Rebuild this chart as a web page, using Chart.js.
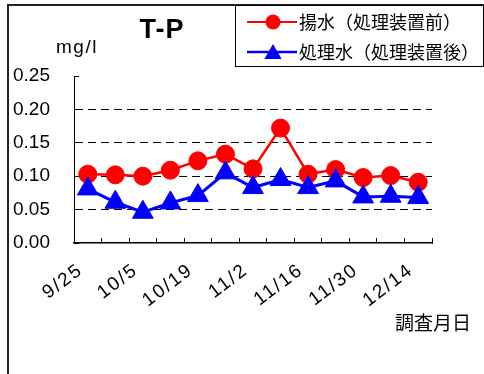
<!DOCTYPE html>
<html><head><meta charset="utf-8">
<script src="https://cdn.jsdelivr.net/npm/chart.js@4"></script>
<style>html,body{margin:0;padding:0;background:#fff;overflow:hidden}#wrap{position:relative;width:484px;height:374px}</style>
</head><body><div id="wrap"><canvas id="c" width="484" height="374"></canvas></div>
<script>
// ---- data ----
const categories = ['9/25','9/28','10/5','10/12','10/19','10/26','11/2','11/9','11/16','11/24','11/30','12/7','12/14'];
const shownLabelEvery = 2;
const seriesNames = ['揚水（処理装置前）', '処理水（処理装置後）'];
const rawWater     = [0.103, 0.102, 0.100, 0.109, 0.123, 0.133, 0.111, 0.172, 0.103, 0.110, 0.098, 0.101, 0.091];
const treatedWater = [0.081, 0.061, 0.046, 0.060, 0.071, 0.105, 0.083, 0.095, 0.083, 0.093, 0.069, 0.070, 0.068];
const yMin = 0, yMax = 0.25, yStep = 0.05;
const chartTitle = 'T-P';
const unitLabel = 'mg/l';
const xAxisTitle = '調査月日';

const LATIN = '"Liberation Sans", Arial, sans-serif';
const CJK = '"Noto Sans CJK JP", "Liberation Sans", sans-serif';
const RED = '#ff0000', BLUE = '#0000ff';

const decor = {
  id: 'decor',
  beforeDraw(chart) {
    const ctx = chart.ctx;
    ctx.save(); ctx.fillStyle = '#fff'; ctx.fillRect(0, 0, chart.width, chart.height); ctx.restore();
    const s = chart.scales.x;
    if (s && !s._spaced) {
      const orig = s.drawLabels.bind(s);
      s.drawLabels = function (ca) {
        const c = this.ctx; const prev = c.letterSpacing;
        c.letterSpacing = '2px'; orig(ca); c.letterSpacing = prev || '0px';
      };
      s._spaced = true;
    }
  },
  afterDraw(chart) {
    const ctx = chart.ctx;
    ctx.save();
    // outer frame
    ctx.strokeStyle = '#222'; ctx.lineWidth = 2;
    ctx.beginPath(); ctx.moveTo(8, 380); ctx.lineTo(8, 5); ctx.lineTo(490, 5); ctx.stroke();
    // title
    ctx.fillStyle = '#000';
    ctx.font = 'bold 27px ' + LATIN;
    ctx.textAlign = 'center'; ctx.textBaseline = 'middle';
    ctx.letterSpacing = '1px';
    ctx.fillText(chartTitle, 162, 31);
    // unit
    ctx.font = '19px ' + LATIN;
    ctx.textAlign = 'left';
    ctx.letterSpacing = '1.5px';
    ctx.fillText(unitLabel, 56, 48);
    ctx.letterSpacing = '0px';
    // x axis title
    ctx.font = '19px ' + CJK;
    ctx.fillText(xAxisTitle, 395, 323);
    // legend box
    ctx.strokeStyle = '#000'; ctx.lineWidth = 1;
    ctx.strokeRect(235.5, 5.5, 248, 61);
    // legend items
    const items = [
      {name: seriesNames[0], color: RED, style: 'circle', r: 7.5, y: 22, lw: 2},
      {name: seriesNames[1], color: BLUE, style: 'triangle', r: 10, y: 52, lw: 2.5}
    ];
    items.forEach(it => {
      ctx.strokeStyle = it.color; ctx.lineWidth = it.lw;
      ctx.beginPath(); ctx.moveTo(247, it.y); ctx.lineTo(297, it.y); ctx.stroke();
      ctx.fillStyle = it.color;
      ctx.beginPath();
      if (it.style === 'circle') { ctx.arc(273, it.y, it.r, 0, Math.PI*2); }
      else {
        const cy = it.y + 2;
        for (let k = 0; k < 3; k++) {
          const a = k * 2 * Math.PI / 3;
          const px = 273 + Math.sin(a) * it.r, py = cy - Math.cos(a) * it.r;
          k ? ctx.lineTo(px, py) : ctx.moveTo(px, py);
        }
        ctx.closePath();
      }
      ctx.fill();
      ctx.fillStyle = '#000';
      ctx.font = '18px ' + CJK;
      ctx.textAlign = 'left'; ctx.textBaseline = 'middle';
      ctx.fillText(it.name, 299, it.y);
    });
    ctx.restore();
  }
};

new Chart(document.getElementById('c'), {
  type: 'line',
  data: {
    labels: categories,
    datasets: [
      {label: seriesNames[0], data: rawWater, borderColor: RED, backgroundColor: RED,
       borderWidth: 2.5, pointStyle: 'circle', pointRadius: 9, pointBorderWidth: 1,
       pointBackgroundColor: RED, pointBorderColor: RED, tension: 0, order: 1},
      {label: seriesNames[1], data: treatedWater, borderColor: BLUE, backgroundColor: BLUE,
       borderWidth: 3, pointStyle: 'triangle', pointRadius: 12, pointBorderWidth: 1,
       pointBackgroundColor: BLUE, pointBorderColor: BLUE, tension: 0, order: 0}
    ]
  },
  options: {
    responsive: false, devicePixelRatio: 1, animation: false,
    layout: {padding: {left: 0, top: 76, right: 52, bottom: 0}},
    plugins: {legend: {display: false}, title: {display: false}, tooltip: {enabled: false}},
    scales: {
      x: {
        offset: true,
        grid: {offset: true, drawOnChartArea: false, tickLength: -5, tickColor: '#000', tickWidth: 1},
        border: {color: '#000', width: 1.5},
        ticks: {
          autoSkip: false, maxRotation: 37, minRotation: 37, padding: 21, labelOffset: -7,
          color: '#000', font: {family: LATIN, size: 19},
          callback: (v, i) => (i % shownLabelEvery === 0 ? categories[i] : '')
        },
        afterFit: s => { s.height = 374 - 243; }
      },
      y: {
        min: yMin, max: yMax,
        grid: {
          tickLength: -5, tickColor: '#000', lineWidth: 1,
          color: c => (c.tick && (c.tick.value <= yMin + 1e-9 || c.tick.value >= yMax - 1e-9)) ? 'rgba(0,0,0,0)' : '#000',
          tickBorderDash: []
        },
        border: {color: '#000', width: 1, dash: [8, 5]},
        ticks: {
          stepSize: yStep, padding: 29, color: '#000', font: {family: LATIN, size: 19},
          callback: v => Number(v).toFixed(2)
        },
        afterFit: s => { s.width = 74; }
      }
    }
  },
  plugins: [decor]
});
</script>
</body></html>
